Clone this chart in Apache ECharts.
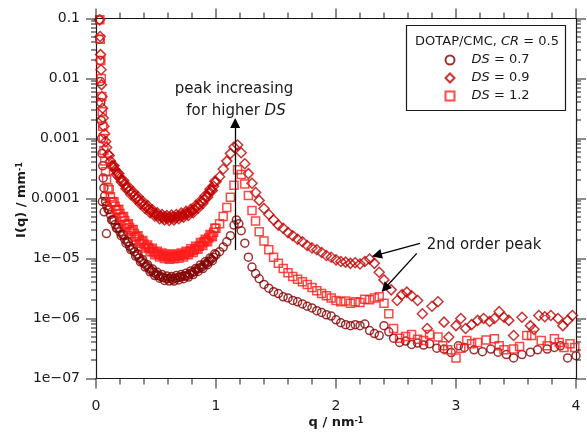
<!DOCTYPE html>
<html><head><meta charset="utf-8">
<script src="https://cdn.jsdelivr.net/npm/echarts@6/dist/echarts.min.js"></script>
<style>html,body{margin:0;padding:0;background:#fff}#chart{width:587px;height:435px}</style>
</head><body><div id="chart"></div>
<script>
// ---- data ----
const q07 = [0.028,0.031,0.034,0.037,0.040,0.043,0.046,0.050,0.053,0.056,0.060,0.066,0.068,0.072,0.080,0.087,0.090,
0.10,0.12,0.14,0.16,0.18,0.20,0.22,0.24,0.26,0.28,0.30,0.32,0.34,0.36,0.38,0.40,0.42,0.44,0.46,0.48,0.50,0.52,0.54,0.56,0.58,0.60,0.62,0.64,0.66,0.68,0.70,0.72,0.74,0.76,0.78,0.80,0.82,0.84,0.86,0.88,0.90,0.92,0.94,0.96,0.98,
1.00,1.03,1.06,1.09,1.12,1.15,1.17,1.19,1.21,1.24,1.27,1.30,1.33,1.36,1.40,1.44,1.48,1.52,1.56,1.60,1.64,1.68,1.72,1.76,1.80,1.84,1.88,1.92,1.96,2.00,2.04,2.08,2.12,2.16,2.20,2.24,2.28,2.32,2.36,2.40,2.44,2.48,2.53,2.58,2.63,2.68,2.73,2.78,2.84,2.90,2.96,3.02,3.07,3.15,3.22,3.29,3.35,3.42,3.48,3.55,3.62,3.68,3.76,3.82,3.87,3.93,4.00];
const i07 = [9.5e-2,4.5e-2,2.0e-2,8.9e-3,4.0e-3,2.0e-3,1.0e-3,5.6e-4,8.9e-5,3.5e-4,2.2e-4,1.5e-4,6.0e-5,1.1e-4,8.9e-5,2.6e-5,7.6e-5,
6.6e-5,5.4e-5,4.4e-5,3.7e-5,3.2e-5,2.8e-5,2.5e-5,2.1e-5,1.9e-5,1.6e-5,1.45e-5,1.3e-5,1.15e-5,1.02e-5,9.1e-6,8.3e-6,7.6e-6,6.9e-6,6.3e-6,5.9e-6,5.5e-6,5.2e-6,5.0e-6,4.8e-6,4.7e-6,4.6e-6,4.7e-6,4.5e-6,4.7e-6,4.8e-6,4.9e-6,5.0e-6,5.1e-6,5.2e-6,5.5e-6,5.8e-6,6.0e-6,6.5e-6,6.9e-6,7.2e-6,7.8e-6,8.3e-6,8.9e-6,9.8e-6,1.05e-5,
1.15e-5,1.3e-5,1.55e-5,1.9e-5,2.4e-5,3.6e-5,4.4e-5,3.8e-5,2.9e-5,1.8e-5,1.05e-5,7.2e-6,5.6e-6,4.6e-6,3.7e-6,3.2e-6,2.8e-6,2.6e-6,2.3e-6,2.2e-6,2.0e-6,1.9e-6,1.75e-6,1.6e-6,1.5e-6,1.35e-6,1.26e-6,1.15e-6,1.1e-6,9.5e-7,8.5e-7,7.9e-7,7.6e-7,7.9e-7,7.6e-7,8.1e-7,6.3e-7,5.6e-7,5.2e-7,7.6e-7,6.0e-7,4.7e-7,4.0e-7,4.2e-7,3.7e-7,3.9e-7,3.6e-7,3.8e-7,3.2e-7,3.1e-7,2.7e-7,3.5e-7,3.3e-7,3.0e-7,2.8e-7,3.1e-7,2.75e-7,2.5e-7,2.2e-7,2.5e-7,2.75e-7,3.0e-7,3.1e-7,3.3e-7,3.5e-7,2.2e-7,2.4e-7];
// interleaved points of the dense low-q band
const q07b = [0.11,0.13,0.15,0.17,0.19,0.21,0.23,0.25,0.27,0.29,0.31,0.33,0.35,0.37,0.39,0.41,0.43,0.45,0.47,0.49,0.51,0.53,0.55,0.57,0.59,0.61,0.63,0.65,0.67,0.69,0.71,0.73,0.75,0.77,0.79,0.81,0.83,0.85,0.87,0.89,0.91,0.93,0.95,0.97,0.99];
const i07b = [6.5e-5,4.4e-5,4.4e-5,3.2e-5,3.3e-5,2.4e-5,2.5e-5,1.8e-5,1.9e-5,1.4e-5,1.5e-5,1.1e-5,1.19e-5,8.8e-6,9.5e-6,7.2e-6,7.9e-6,6.0e-6,6.7e-6,5.2e-6,5.9e-6,4.7e-6,5.4e-6,4.3e-6,5.1e-6,4.2e-6,5.0e-6,4.2e-6,5.2e-6,4.4e-6,5.4e-6,4.6e-6,5.7e-6,4.9e-6,6.2e-6,5.4e-6,6.8e-6,6.1e-6,7.8e-6,6.8e-6,8.8e-6,7.9e-6,1.02e-5,9.2e-6,1.2e-5];

const q09 = [0.030,0.034,0.038,0.042,0.046,0.050,0.055,0.060,0.066,0.072,0.080,0.088,
0.10,0.12,0.14,0.16,0.18,0.20,0.22,0.24,0.26,0.28,0.30,0.32,0.34,0.36,0.38,0.40,0.42,0.44,0.46,0.48,0.50,0.52,0.54,0.56,0.58,0.60,0.62,0.64,0.66,0.68,0.70,0.72,0.74,0.76,0.78,0.80,0.82,0.84,0.86,0.88,0.90,0.92,0.94,0.96,0.98,
1.00,1.03,1.06,1.09,1.12,1.15,1.18,1.21,1.24,1.27,1.30,1.33,1.36,1.40,1.44,1.48,1.52,1.56,1.60,1.64,1.68,1.72,1.76,1.80,1.84,1.88,1.92,1.96,2.00,2.04,2.08,2.12,2.16,2.20,2.24,2.28,2.32,2.36,2.40,2.46,2.51,2.55,2.59,2.63,2.68,2.72,2.76,2.80,2.85,2.90,2.94,3.00,3.04,3.08,3.13,3.18,3.23,3.28,3.32,3.36,3.40,3.44,3.48,3.55,3.62,3.65,3.69,3.74,3.79,3.85,3.89,3.93,3.97];
const i09 = [9.5e-2,5.0e-2,2.5e-2,1.4e-2,7.9e-3,5.0e-3,3.2e-3,2.2e-3,1.6e-3,1.2e-3,8.9e-4,7.1e-4,
5.4e-4,4.2e-4,3.5e-4,3.0e-4,2.6e-4,2.2e-4,1.95e-4,1.7e-4,1.5e-4,1.35e-4,1.23e-4,1.12e-4,1.02e-4,9.3e-5,8.5e-5,7.8e-5,7.2e-5,6.6e-5,6.2e-5,5.8e-5,5.4e-5,5.1e-5,5.0e-5,4.8e-5,4.9e-5,4.7e-5,4.8e-5,4.9e-5,4.8e-5,5.0e-5,5.1e-5,5.2e-5,5.5e-5,5.6e-5,5.9e-5,6.2e-5,6.6e-5,7.2e-5,7.9e-5,8.7e-5,9.5e-5,1.07e-4,1.23e-4,1.38e-4,1.6e-4,
1.9e-4,2.3e-4,3.1e-4,4.2e-4,5.6e-4,7.2e-4,7.8e-4,5.8e-4,3.8e-4,2.6e-4,1.8e-4,1.26e-4,9.3e-5,6.8e-5,5.4e-5,4.4e-5,3.6e-5,3.2e-5,2.7e-5,2.4e-5,2.1e-5,1.9e-5,1.65e-5,1.5e-5,1.4e-5,1.26e-5,1.12e-5,1.05e-5,9.5e-6,8.9e-6,8.7e-6,8.3e-6,8.5e-6,8.1e-6,8.9e-6,9.8e-6,8.3e-6,5.9e-6,4.4e-6,3.0e-6,2.0e-6,2.5e-6,2.75e-6,2.4e-6,2.0e-6,1.2e-6,6.8e-7,1.6e-6,1.9e-6,8.7e-7,4.9e-7,7.6e-7,1.0e-6,6.8e-7,7.9e-7,9.3e-7,1.0e-6,8.9e-7,1.0e-6,1.3e-6,1.05e-6,9.3e-7,5.2e-7,1.05e-6,7.6e-7,6.6e-7,1.12e-6,1.07e-6,1.12e-6,1.0e-6,7.6e-7,9.3e-7,1.12e-6];
const q09b = [0.11,0.13,0.15,0.17,0.19,0.21,0.23,0.25,0.27,0.29,0.31,0.33,0.35,0.37,0.39,0.41,0.43,0.45,0.47,0.49,0.51,0.53,0.55,0.57,0.59,0.61,0.63,0.65,0.67,0.69,0.71,0.73,0.75,0.77,0.79,0.81,0.83,0.85,0.87,0.89,0.91,0.93,0.95,0.97,0.99];
const i09b = [5.2e-4,3.5e-4,3.5e-4,2.5e-4,2.6e-4,1.9e-4,2.0e-4,1.46e-4,1.57e-4,1.17e-4,1.29e-4,9.8e-5,1.07e-4,8.1e-5,8.9e-5,6.8e-5,7.6e-5,5.8e-5,6.5e-5,5.1e-5,5.8e-5,4.6e-5,5.4e-5,4.4e-5,5.2e-5,4.3e-5,5.3e-5,4.4e-5,5.4e-5,4.6e-5,5.7e-5,4.9e-5,6.1e-5,5.2e-5,6.6e-5,5.8e-5,7.6e-5,6.9e-5,9.1e-5,8.3e-5,1.11e-4,1.05e-4,1.43e-4,1.36e-4,1.93e-4];

const q12 = [0.032,0.036,0.040,0.044,0.048,0.052,0.056,0.060,0.066,0.072,0.080,0.088,
0.10,0.12,0.14,0.16,0.18,0.20,0.22,0.24,0.26,0.28,0.30,0.32,0.34,0.36,0.38,0.40,0.42,0.44,0.46,0.48,0.50,0.52,0.54,0.56,0.58,0.60,0.62,0.64,0.66,0.68,0.70,0.72,0.74,0.76,0.78,0.80,0.82,0.84,0.86,0.88,0.90,0.92,0.94,0.96,0.98,
1.00,1.03,1.06,1.09,1.12,1.15,1.18,1.21,1.24,1.27,1.30,1.33,1.36,1.40,1.44,1.48,1.52,1.56,1.60,1.64,1.68,1.72,1.76,1.80,1.84,1.88,1.92,1.96,2.00,2.04,2.08,2.12,2.16,2.20,2.24,2.28,2.32,2.36,2.40,2.44,2.48,2.53,2.58,2.63,2.68,2.73,2.78,2.85,2.89,2.93,3.00,3.04,3.09,3.13,3.18,3.25,3.32,3.36,3.40,3.48,3.53,3.59,3.63,3.71,3.76,3.82,3.86,3.90,3.95,3.99];
const i12 = [9.5e-2,4.5e-2,2.0e-2,1.0e-2,5.0e-3,2.8e-3,1.6e-3,1.0e-3,6.3e-4,4.2e-4,2.8e-4,2.1e-4,
1.5e-4,1.07e-4,8.7e-5,7.4e-5,6.5e-5,5.6e-5,4.9e-5,4.3e-5,3.7e-5,3.3e-5,3.0e-5,2.6e-5,2.3e-5,2.1e-5,1.9e-5,1.75e-5,1.6e-5,1.5e-5,1.4e-5,1.3e-5,1.23e-5,1.17e-5,1.15e-5,1.1e-5,1.1e-5,1.07e-5,1.05e-5,1.1e-5,1.07e-5,1.1e-5,1.12e-5,1.15e-5,1.17e-5,1.23e-5,1.3e-5,1.35e-5,1.4e-5,1.5e-5,1.6e-5,1.75e-5,1.9e-5,2.0e-5,2.2e-5,2.4e-5,2.75e-5,
3.2e-5,3.8e-5,5.0e-5,7.1e-5,1.05e-4,1.66e-4,3.0e-4,2.5e-4,1.74e-4,1.12e-4,6.3e-5,4.2e-5,2.8e-5,1.95e-5,1.4e-5,1.05e-5,8.3e-6,6.8e-6,5.8e-6,5.0e-6,4.5e-6,4.1e-6,3.7e-6,3.3e-6,2.9e-6,2.6e-6,2.4e-6,2.2e-6,2.0e-6,1.9e-6,1.95e-6,1.8e-6,1.9e-6,1.85e-6,2.1e-6,2.05e-6,2.2e-6,2.3e-6,1.8e-6,1.2e-6,6.8e-7,4.7e-7,5.0e-7,5.4e-7,4.5e-7,4.3e-7,5.4e-7,4.9e-7,3.5e-7,3.0e-7,2.2e-7,3.2e-7,4.3e-7,3.8e-7,4.0e-7,4.4e-7,4.6e-7,3.5e-7,3.0e-7,3.1e-7,3.4e-7,5.2e-7,5.2e-7,4.3e-7,3.5e-7,4.6e-7,4.0e-7,3.3e-7,3.8e-7,3.3e-7];
const q12b = [0.11,0.13,0.15,0.17,0.19,0.21,0.23,0.25,0.27,0.29,0.31,0.33,0.35,0.37,0.39,0.41,0.43,0.45,0.47,0.49,0.51,0.53,0.55,0.57,0.59,0.61,0.63,0.65,0.67,0.69,0.71,0.73,0.75,0.77,0.79,0.81,0.83,0.85,0.87,0.89,0.91,0.93,0.95,0.97,0.99];
const i12b = [1.4e-4,8.8e-5,8.8e-5,6.3e-5,6.6e-5,4.8e-5,5.0e-5,3.6e-5,3.8e-5,2.85e-5,3.05e-5,2.3e-5,2.4e-5,1.8e-5,2.0e-5,1.5e-5,1.68e-5,1.3e-5,1.48e-5,1.16e-5,1.32e-5,1.06e-5,1.23e-5,1.0e-5,1.19e-5,9.7e-6,1.17e-5,9.9e-6,1.19e-5,1.01e-5,1.24e-5,1.06e-5,1.32e-5,1.15e-5,1.45e-5,1.26e-5,1.6e-5,1.43e-5,1.84e-5,1.64e-5,2.1e-5,1.9e-5,2.5e-5,2.3e-5,3.2e-5];

const seriesNames = ['DS = 0.7', 'DS = 0.9', 'DS = 1.2'];
const legendTitle = 'DOTAP/CMC, {i|CR} = 0.5';
const xTickLabels = ['0', '1', '2', '3', '4'];
const yTickLabels = ['1e\u221207', '1e\u221206', '1e\u221205', '0.0001', '0.001', '0.01', '0.1'];
const xMajorTicks = [0, 1, 2, 3, 4];
const yMajorTicks = [1e-7, 1e-6, 1e-5, 1e-4, 1e-3, 1e-2, 1e-1];
const xTitle = 'q / nm';
const yTitle = 'I(q) / mm';
const annotPeakText = ['peak increasing', 'for higher {i|DS}'];
const annotSecondText = '2nd order peak';
// annotation arrows in data coordinates [q, I]
const peakArrow = [[1.16, 1.39e-5], [1.16, 1.81e-3]];
const secondArrowA = [[2.70, 1.79e-5], [2.34, 1.14e-5]];
const secondArrowB = [[2.673, 1.22e-5], [2.408, 3.19e-6]];

// ---- chart ----
const FONT = 'DejaVu Sans';
const INK = '#1a1a1a';
const GRID = { left: 96, right: 11, top: 18.5, bottom: 56.5 };
const W = 587, H = 435;
const X_MIN = 0, X_MAX = 4, Y_MIN = 1e-7, Y_MAX = 0.1;
const colors = ['#840000', '#c00000', '#ff1a1a'];
const symbols = ['circle', 'diamond', 'rect'];
const sizes = [8, 10, 8];
const sets = [[q07, i07, q07b, i07b], [q09, i09, q09b, i09b], [q12, i12, q12b, i12b]];
const series = sets.map((d, s) => ({
  type: 'scatter', name: seriesNames[s],
  data: d[0].map((q, k) => [q, d[1][k]]).concat(d[2].map((q, k) => [q, d[3][k]])),
  symbol: symbols[s], symbolSize: sizes[s], symbolKeepAspect: true,
  itemStyle: { color: 'rgba(0,0,0,0)', borderColor: colors[s], borderWidth: 1.5 },
  clip: true, silent: true, emphasis: { disabled: true },
  xAxisIndex: 0, yAxisIndex: 0
}));
const arrowPair = p => [{ coord: p[0] }, { coord: p[1] }];
series[1].markLine = {
  silent: true, animation: false, symbol: ['none', 'triangle'], symbolSize: 10,
  lineStyle: { color: '#000', width: 1.3, type: 'solid' }, label: { show: false },
  emphasis: { disabled: true },
  data: [arrowPair(peakArrow), arrowPair(secondArrowA), arrowPair(secondArrowB)]
};

const ls = () => ({ color: INK, width: 1.2 });
function xAx(pos, labels) {
  return {
    type: 'value', position: pos, min: X_MIN, max: X_MAX, interval: 1,
    axisLine: { show: true, onZero: false, lineStyle: ls() },
    axisTick: { show: false }, minorTick: { show: false },
    axisLabel: { show: labels, margin: 21, fontSize: 14, fontFamily: FONT, color: INK,
      formatter: v => xTickLabels[Math.round(v)] },
    splitLine: { show: false }, minorSplitLine: { show: false }
  };
}
function yAx(pos, labels) {
  return {
    type: 'log', logBase: 10, position: pos, min: Y_MIN, max: Y_MAX,
    axisLine: { show: true, onZero: false, lineStyle: ls() },
    axisTick: { show: false },
    axisLabel: { show: labels, margin: 16, fontSize: 14, fontFamily: FONT, color: INK,
      formatter: v => yTickLabels[Math.round(Math.log10(v)) + 7] },
    splitLine: { show: false }
  };
}

// axis tick marks (frame decoration), placed on the grid frame defined above
const gx0 = GRID.left, gx1 = W - GRID.right, gy0 = GRID.top, gy1 = H - GRID.bottom;
const tickX = v => Math.round(gx0 + (v - X_MIN) / (X_MAX - X_MIN) * (gx1 - gx0));
const tickY = v => gy1 - (Math.log10(v) - Math.log10(Y_MIN)) / (Math.log10(Y_MAX) - Math.log10(Y_MIN)) * (gy1 - gy0);
const tickEls = [];
const bar = (x, y, w, h) => tickEls.push({ type: 'rect', silent: true, z: 6,
  shape: { x: x, y: y, width: w, height: h }, style: { fill: INK } });
const xMinorTicks = [];
for (let k = 0; k < 4; k++) for (let m = 1; m < 5; m++) xMinorTicks.push(k + m * 0.2);
const yMinorTicks = [];
for (let e = -7; e < -1; e++) for (let m = 2; m <= 9; m++) yMinorTicks.push(m * Math.pow(10, e));
xMajorTicks.forEach(v => { const x = tickX(v); bar(x - 0.5, gy1, 1, 10); bar(x - 0.5, gy0 - 10, 1, 10); });
xMinorTicks.forEach(v => { const x = tickX(v); bar(x - 0.5, gy1, 1, 6); bar(x - 0.5, gy0 - 6, 1, 6); });
yMajorTicks.forEach(v => { const y = Math.round(tickY(v)); bar(gx0 - 10, y - 0.5, 10, 1); bar(gx1, y - 0.5, 10, 1); });
yMinorTicks.forEach(v => { const y = Math.round(tickY(v)); bar(gx0 - 5, y - 0.5, 5, 1); bar(gx1, y - 0.5, 5, 1); });

const graphics = [
  { type: 'rect', z: 3, shape: { x: 406.5, y: 25.5, width: 159, height: 85 },
    style: { fill: '#fff', stroke: INK, lineWidth: 1.2 } },
  { type: 'text', z: 11, x: 487, y: 42,
    style: { text: legendTitle, fontSize: 13, fontFamily: FONT, fill: INK, align: 'center', verticalAlign: 'middle',
      rich: { i: { fontStyle: 'italic', fontSize: 13, fontFamily: FONT, fill: INK } } } },
  { type: 'text', z: 11, x: 234, y: 89,
    style: { text: annotPeakText[0], fontSize: 15, fontFamily: FONT, fill: INK, align: 'center', verticalAlign: 'middle' } },
  { type: 'text', z: 11, x: 236, y: 111,
    style: { text: annotPeakText[1], fontSize: 15, fontFamily: FONT, fill: INK, align: 'center', verticalAlign: 'middle',
      rich: { i: { fontStyle: 'italic', fontSize: 15, fontFamily: FONT, fill: INK } } } },
  { type: 'text', z: 11, x: 484, y: 245,
    style: { text: annotSecondText, fontSize: 15, fontFamily: FONT, fill: INK, align: 'center', verticalAlign: 'middle' } },
  { type: 'text', z: 11, x: 336, y: 423,
    style: { text: '{b|' + xTitle + '}{s|-1}', fill: INK, align: 'center', verticalAlign: 'middle',
      rich: { b: { fontSize: 13, fontWeight: 'bold', fontFamily: FONT, fill: INK },
              s: { fontSize: 8, fontWeight: 'bold', fontFamily: FONT, fill: INK, verticalAlign: 'top' } } } },
  { type: 'text', z: 11, x: 22, y: 200, rotation: Math.PI / 2,
    style: { text: '{b|' + yTitle + '}{s|-1}', fill: INK, align: 'center', verticalAlign: 'middle',
      rich: { b: { fontSize: 13, fontWeight: 'bold', fontFamily: FONT, fill: INK },
              s: { fontSize: 8, fontWeight: 'bold', fontFamily: FONT, fill: INK, verticalAlign: 'top' } } } }
].concat(tickEls);

const chart = echarts.init(document.getElementById('chart'), null, { renderer: 'canvas', width: W, height: H });
try {
  chart.setOption({
    animation: false,
    backgroundColor: '#fff',
    grid: GRID,
    xAxis: [xAx('bottom', true), xAx('top', false)],
    yAxis: [yAx('left', true), yAx('right', false)],
    legend: {
      orient: 'vertical', left: 439.5, top: 48, z: 10,
      itemWidth: 9, itemHeight: 9, itemGap: 4, symbolKeepAspect: true,
      selectedMode: false,
      data: seriesNames,
      formatter: n => n.replace('DS', '{i|DS}{n|') + '}',
      textStyle: { fontSize: 13, fontFamily: FONT, color: INK, lineHeight: 14, padding: [0, 0, 0, 12],
        rich: { i: { fontStyle: 'italic', fontSize: 13, fontFamily: FONT, color: INK },
                n: { fontSize: 13, fontFamily: FONT, color: INK } } }
    },
    graphic: graphics,
    series: series
  });
} catch (e) { console.error(e); }
</script></body></html>
